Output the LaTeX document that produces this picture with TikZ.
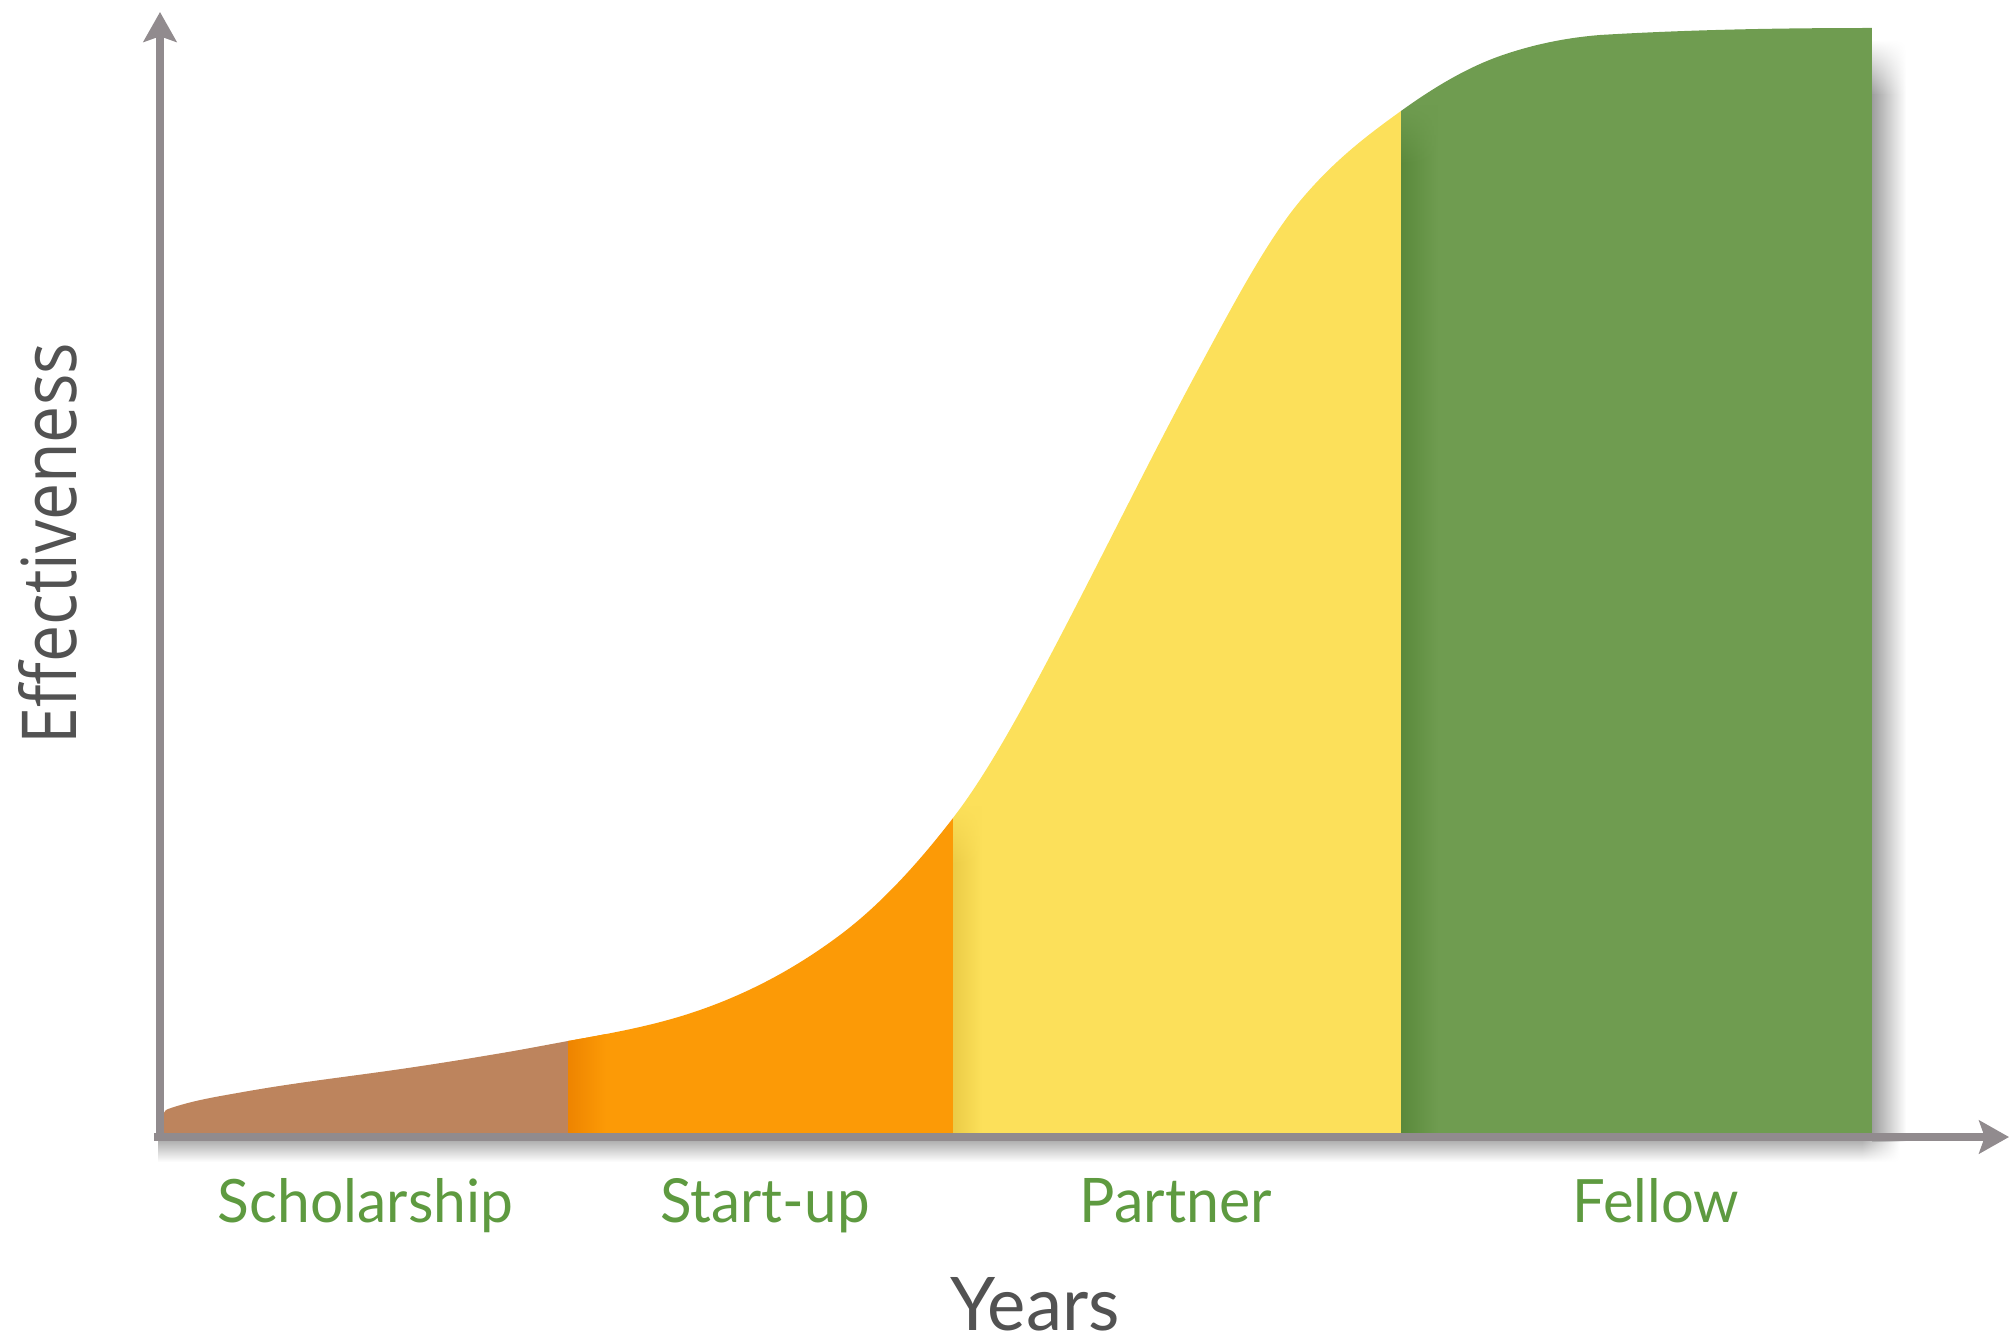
\documentclass[tikz,border=0pt]{standalone}
\usepackage{fontspec}
\usepackage{graphicx}
\usetikzlibrary{arrows.meta,fadings}
\newfontfamily\labelfont{Lato}
\newfontfamily\axisfont{Open Sans}
\definecolor{brownc}{HTML}{BD845D}
\definecolor{orangec}{HTML}{FC9A06}
\definecolor{orangedark}{HTML}{EE8400}
\definecolor{yellowc}{HTML}{FCE05A}
\definecolor{yellowdark}{HTML}{EBCB46}
\definecolor{greenc}{HTML}{6F9C50}
\definecolor{greendark}{HTML}{5A893B}
\definecolor{labelgreen}{HTML}{5E9A40}
\definecolor{axisgray}{HTML}{918B8E}
\definecolor{textgray}{HTML}{525252}
\tikzset{
  axisline/.style={draw=axisgray, line width=2.2pt, -{Stealth[length=8.5pt,width=9.4pt,inset=1.6pt]}},
  stagelabel/.style={text=labelgreen, anchor=base, inner sep=0pt},
  axislabel/.style={text=textgray, anchor=base, inner sep=0pt}
}
\begin{document}
\begin{tikzpicture}[x=0.01cm,y=-0.01cm]
\useasboundingbox (0,0) rectangle (2010,1343);
% drop shadows
\shade[left color=black!38, right color=white] (1872,95) rectangle (1906,1141);
\shade[left color=black!38, right color=white, path fading=north] (1872,40) rectangle (1906,95);
\shade[top color=black!32, bottom color=white] (158,1140) rectangle (1862,1162);
\shade[top color=black!32, bottom color=white, path fading=east] (1862,1140) rectangle (1900,1162);
% filled area under the curve
\begin{scope}
\clip (163,1137) -- (163,1118) .. controls (163,1113) and (165,1110) .. (168,1109)
 .. controls (193,1100.25) and (218,1096.5) .. (243,1092)
 .. controls (291,1083.4) and (339,1077.7) .. (387,1071)
 .. controls (425.3,1065.6) and (463.7,1059.5) .. (502,1053)
 .. controls (524,1049.3) and (546,1045) .. (568,1041)
 .. controls (612,1033.1) and (656,1025.4) .. (700,1010)
 .. controls (746.7,993.7) and (793.3,970) .. (840,935)
 .. controls (877.7,906.8) and (915.3,867) .. (953,818)
 .. controls (985.3,776) and (1017.7,717.4) .. (1050,656)
 .. controls (1100,561) and (1150,458.5) .. (1200,366)
 .. controls (1233.3,304.3) and (1266.7,241) .. (1300,201)
 .. controls (1333.7,160.6) and (1367.3,135.2) .. (1401,111)
 .. controls (1434,87.2) and (1467,67.6) .. (1500,56)
 .. controls (1533.3,44.3) and (1566.7,37.7) .. (1600,35)
 .. controls (1690.7,29.6) and (1781.3,28) .. (1872,28)
 -- (1872,1137) -- cycle;
\fill[brownc] (150,0) rectangle (568,1140);
\fill[orangec] (568,0) rectangle (953,1140);
\shade[left color=orangedark, right color=orangec] (568,0) rectangle (606,1140);
\fill[yellowc] (953,0) rectangle (1401,1140);
\shade[left color=yellowdark, right color=yellowc, path fading=north] (953,805) rectangle (982,865);
\shade[left color=yellowdark, right color=yellowc] (953,865) rectangle (982,1140);
\fill[greenc] (1401,0) rectangle (1872,1140);
\shade[left color=greendark, right color=greenc, path fading=north] (1401,105) rectangle (1438,165);
\shade[left color=greendark, right color=greenc] (1401,165) rectangle (1438,1140);
\end{scope}
% axes
\coordinate (o) at (160,1137);
\coordinate (xstart) at (154,1137);
\coordinate (ystart) at (160,1141);
\coordinate (ytip) at (160,12);
\coordinate (xtip) at (2009,1137);
\draw[axisline] (ystart) -- (ytip);
\draw[axisline] (xstart) -- (xtip);
% stage labels
\node[stagelabel] (sch) at (365.5,1222) {\resizebox{2.95cm}{0.44cm}{\labelfont Scholarship}};
\node[stagelabel] (stu) at (765,1222) {\resizebox{2.09cm}{0.44cm}{\labelfont Start-up}};
\node[stagelabel] (par) at (1176,1222) {\resizebox{1.92cm}{0.44cm}{\labelfont Partner}};
\node[stagelabel] (fel) at (1656,1222) {\resizebox{1.66cm}{0.44cm}{\labelfont Fellow}};
% axis labels
\node[axislabel] (years) at (1035,1330) {\resizebox{1.69cm}{0.53cm}{\labelfont Years}};
\node[axislabel, rotate=90] (eff) at (77,543.5) {\resizebox{4.01cm}{0.58cm}{\axisfont Effectiveness}};
\end{tikzpicture}
\end{document}
